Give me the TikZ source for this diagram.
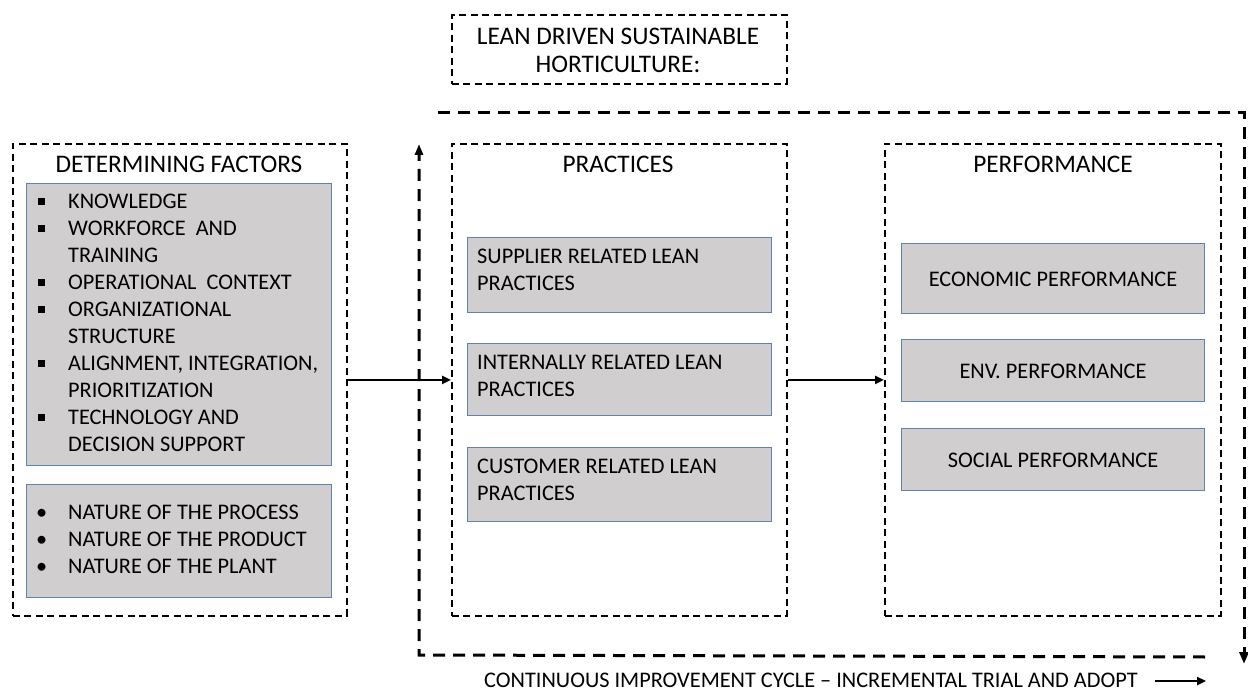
\documentclass[tikz,border=0pt]{standalone}
\usepackage{fontspec}
\setmainfont{Carlito}
\usetikzlibrary{arrows.meta}
\definecolor{boxgray}{RGB}{208,206,206}
\definecolor{boxedge}{RGB}{96,132,168}
\newcommand{\sqb}{\rule[0.17em]{7pt}{7pt}}
\begin{document}
\begin{tikzpicture}[x=1pt,y=-1pt,
  outer/.style={draw, line width=1.8pt, dash pattern=on 7pt off 4.5pt, inner sep=0, anchor=north west},
  cyc/.style={line width=3pt, dash pattern=on 12pt off 8pt},
  graybox/.style={fill=boxgray, draw=boxedge, line width=0.9pt, inner sep=0, anchor=north west},
  lbl/.style={font=\fontsize{22.3}{27}\selectfont, inner sep=0, align=left},
  clbl/.style={font=\fontsize{22.3}{27}\selectfont, inner sep=0, align=center},
  head/.style={font=\fontsize{25.3}{28}\selectfont, inner sep=0},
  conn/.style={line width=2.4pt, -{Triangle[length=9pt,width=8pt]}},
]
\useasboundingbox (0,0) rectangle (1248,692);
% title
\node[outer, minimum width=335, minimum height=69] (title) at (451,14) {};
\node[clbl, font=\fontsize{25.3}{28}\selectfont] (titletxt) at (618,50) {LEAN DRIVEN SUSTAINABLE\\HORTICULTURE:};
% main boxes
\node[outer, minimum width=334, minimum height=472] (det) at (12,143) {};
\node[outer, minimum width=335, minimum height=472] (prac) at (451,143) {};
\node[outer, minimum width=336, minimum height=472] (perf) at (884,143) {};
\node[head] (dethead) at (179,164) {DETERMINING FACTORS};
\node[head] (prachead) at (618,164) {PRACTICES};
\node[head] (perfhead) at (1053,164) {PERFORMANCE};
% determining factors
\node[graybox, minimum width=305, minimum height=282] (g1) at (26,183) {};
\node[graybox, minimum width=305, minimum height=113] (g2) at (26,484) {};
\node[lbl, anchor=west] (g1txt) at (38,325) {\begin{tabular}{@{}p{30pt}@{}l@{}}
\sqb & KNOWLEDGE\\
\sqb & WORKFORCE\ \ AND\\
 & TRAINING\\
\sqb & OPERATIONAL\ \ CONTEXT\\
\sqb & ORGANIZATIONAL\\
 & STRUCTURE\\
\sqb & ALIGNMENT, INTEGRATION,\\
 & PRIORITIZATION\\
\sqb & TECHNOLOGY AND\\
 & DECISION SUPPORT
\end{tabular}};
\node[lbl, anchor=west] (g2txt) at (36,541) {\begin{tabular}{@{}p{32pt}@{}l@{}}
\textbullet & NATURE OF THE PROCESS\\
\textbullet & NATURE OF THE PRODUCT\\
\textbullet & NATURE OF THE PLANT
\end{tabular}};
% practices
\node[graybox, minimum width=304, minimum height=75] (p1) at (467,237) {};
\node[graybox, minimum width=304, minimum height=72] (p2) at (467,343) {};
\node[graybox, minimum width=304, minimum height=74] (p3) at (467,447) {};
\node[lbl, anchor=west] (p1txt) at (477,270) {SUPPLIER RELATED LEAN\\PRACTICES};
\node[lbl, anchor=west] (p2txt) at (477,376) {INTERNALLY RELATED LEAN\\PRACTICES};
\node[lbl, anchor=west] (p3txt) at (477,480) {CUSTOMER RELATED LEAN\\PRACTICES};
% performance
\node[graybox, minimum width=303, minimum height=70] (e1) at (901,243) {};
\node[graybox, minimum width=303, minimum height=62] (e2) at (901,339) {};
\node[graybox, minimum width=303, minimum height=62] (e3) at (901,428) {};
\node[clbl] (e1txt) at (1053,279) {ECONOMIC PERFORMANCE};
\node[clbl] (e2txt) at (1053,371) {ENV. PERFORMANCE};
\node[clbl] (e3txt) at (1053,460) {SOCIAL PERFORMANCE};
% connectors
\draw[conn] (det.east) -- (prac.west);
\draw[conn] (prac.east) -- (perf.west);
% cycle
\coordinate (c1) at (438,113);
\coordinate (c2) at (1244,113);
\coordinate (c3) at (1244,664);
\coordinate (c4) at (1205,657);
\coordinate (c5) at (419,655);
\coordinate (c6) at (419,144);
\draw[cyc, -{Triangle[length=12pt,width=9pt]}] (c1) -- (c2) -- (c3);
\draw[cyc, -{Triangle[length=11pt,width=8pt]}] (c4) -- (c5) -- (c6);
\node[font=\fontsize{22.3}{24}\selectfont, inner sep=0, anchor=base west] (cyctxt) at (484,687) {CONTINUOUS IMPROVEMENT CYCLE -- INCREMENTAL TRIAL AND ADOPT};
\coordinate (a1) at (1155,681);
\coordinate (a2) at (1206,681);
\draw[conn] (a1) -- (a2);
\end{tikzpicture}
\end{document}
